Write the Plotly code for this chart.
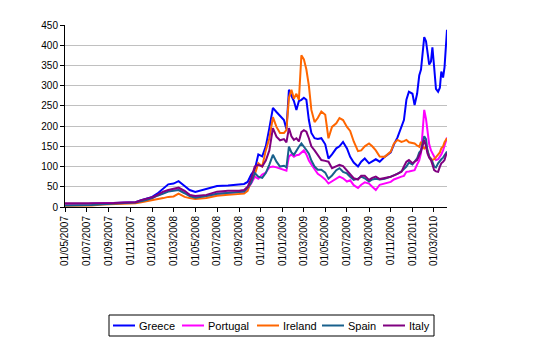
import plotly.graph_objects as go

dates = [
    "2007-05-01", "2007-06-15", "2007-07-15", "2007-08-15", "2007-09-15", "2007-10-15", "2007-11-15", "2007-12-01", "2007-12-15", "2008-01-01",
    "2008-01-15", "2008-02-01", "2008-02-15", "2008-03-01", "2008-03-15", "2008-04-01", "2008-04-15", "2008-05-01", "2008-06-01", "2008-07-01",
    "2008-08-01", "2008-09-01", "2008-09-15", "2008-09-25", "2008-10-05", "2008-10-15", "2008-10-25", "2008-11-05", "2008-11-15", "2008-11-25",
    "2008-12-05", "2008-12-15", "2008-12-25", "2009-01-05", "2009-01-12", "2009-01-19", "2009-01-26", "2009-02-02", "2009-02-09", "2009-02-16",
    "2009-02-23", "2009-03-02", "2009-03-09", "2009-03-16", "2009-03-23", "2009-04-01", "2009-04-10", "2009-04-20", "2009-05-01", "2009-05-10",
    "2009-05-20", "2009-06-01", "2009-06-10", "2009-06-20", "2009-07-01", "2009-07-10", "2009-07-20", "2009-08-01", "2009-08-10", "2009-08-20",
    "2009-09-01", "2009-09-10", "2009-09-20", "2009-10-01", "2009-10-15", "2009-11-01", "2009-11-10", "2009-11-20", "2009-12-01", "2009-12-08",
    "2009-12-15", "2009-12-22", "2010-01-01", "2010-01-07", "2010-01-14", "2010-01-20", "2010-01-25", "2010-01-29", "2010-02-03", "2010-02-08",
    "2010-02-12", "2010-02-17", "2010-02-22", "2010-02-26", "2010-03-03", "2010-03-08", "2010-03-14", "2010-03-19", "2010-03-23", "2010-03-28",
    "2010-04-01", "2010-04-05", "2010-04-08",
]

greece = [
    6, 6, 8, 9, 10, 10, 12, 17, 20, 25,
    33, 47, 56, 58, 64, 52, 42, 37, 44, 52,
    53, 55, 57, 62, 80, 92, 130, 125, 150, 195,
    245, 235, 225, 215, 192, 290, 275, 262, 240, 262,
    265, 270, 265, 215, 183, 170, 168, 170, 155, 120,
    130, 145, 150, 161, 145, 124, 110, 100, 112, 120,
    108, 112, 118, 112, 124, 135, 155, 172, 200, 215,
    265, 285, 280, 252, 280, 325, 340, 375, 420, 410,
    380, 352, 360, 395, 345, 292, 285, 295, 335, 320,
    345, 410, 438,
]

portugal = [
    6, 6, 8, 9, 10, 10, 11, 15, 18, 22,
    28, 35, 40, 42, 45, 38, 30, 25, 28, 33,
    35, 36, 38, 45, 58, 75, 70, 80, 85, 98,
    100, 98, 95, 93, 90, 125, 130, 124, 128, 129,
    135, 140, 130, 115, 105, 92, 82, 76, 68, 58,
    64, 71, 75, 71, 63, 66, 54, 47, 55, 61,
    58, 50, 42, 55, 58, 62, 68, 72, 75, 77,
    87, 88, 90, 91, 105, 115, 133, 175, 240, 218,
    190, 155, 140, 133, 125, 116, 118, 124, 130, 140,
    153, 168, 172,
]

ireland = [
    3, 3, 4, 6, 7, 8, 9, 12, 14, 16,
    18, 22, 25, 26, 33, 25, 22, 20, 22, 28,
    30, 32, 33, 40, 65, 80, 108, 100, 140, 170,
    222, 198, 183, 183, 190, 270, 290, 268, 280, 265,
    375, 365, 340, 300, 240, 210, 220, 236, 228, 170,
    198, 207, 220, 215, 198, 188, 162, 138, 140, 150,
    157, 150, 140, 125, 124, 137, 157, 166, 161, 163,
    166, 160, 158, 157, 152, 149, 161, 150, 145, 150,
    140, 124, 120, 116, 118, 124, 129, 135, 145, 150,
    160, 168, 170,
]

spain = [
    4, 4, 5, 7, 9, 10, 11, 14, 17, 22,
    28, 33, 38, 40, 42, 34, 27, 23, 27, 33,
    35, 36, 38, 48, 60, 84, 75, 72, 84, 105,
    129, 112, 100, 102, 98, 149, 135, 129, 141, 149,
    157, 150, 141, 132, 115, 100, 92, 92, 85, 70,
    78, 91, 96, 87, 83, 75, 67, 70, 75, 71,
    63, 68, 70, 68, 70, 75, 78, 82, 88, 95,
    100, 110, 105, 112, 120, 135, 140, 155, 175, 168,
    140, 125, 118, 112, 100, 98, 108, 115, 118, 122,
    128, 134, 137,
]

italy = [
    9, 9, 9, 10, 10, 11, 12, 17, 20, 24,
    30, 38, 42, 45, 48, 40, 30, 27, 30, 38,
    40, 40, 42, 50, 70, 100, 104, 100, 115, 140,
    195, 174, 165, 168, 160, 195, 175, 166, 170, 162,
    185, 190, 186, 170, 150, 140, 128, 116, 114, 112,
    96, 100, 104, 101, 90, 83, 71, 68, 77, 77,
    67, 72, 75, 69, 71, 75, 78, 83, 87, 100,
    112, 116, 108, 112, 116, 128, 137, 150, 166, 150,
    133, 122, 116, 105, 91, 88, 87, 100, 108, 112,
    116, 128, 133,
]

series_names = ["Greece", "Portugal", "Ireland", "Spain", "Italy"]
series_values = [greece, portugal, ireland, spain, italy]
series_colors = ["#0000FF", "#FF00FF", "#FF6600", "#18608C", "#800080"]

tick_dates = [
    "2007-05-01", "2007-07-01", "2007-09-01", "2007-11-01", "2008-01-01", "2008-03-01",
    "2008-05-01", "2008-07-01", "2008-09-01", "2008-11-01", "2009-01-01", "2009-03-01",
    "2009-05-01", "2009-07-01", "2009-09-01", "2009-11-01", "2010-01-01", "2010-03-01",
]
x_range = ["2007-05-01", "2010-04-08"]
y_ticks = list(range(0, 451, 50))

# ---- layout geometry (pixels) ----
W, H = 550, 343
PL, PR, PT, PB = 65, 447, 25, 207          # plot area edges
LEG_BOX = (109, 315, 434, 336)             # legend frame
LEG_SAMPLE_X = [113, 182, 257, 322, 383]   # start of each legend line sample
LEG_SAMPLE_LEN = 22
LEG_Y = 325.5


def px(x):
    return (x - PL) / (PR - PL)


def py(y):
    return (PB - y) / (PB - PT)


fig = go.Figure()
for name, vals, col in zip(series_names, series_values, series_colors):
    fig.add_trace(go.Scatter(x=dates, y=vals, name=name, mode="lines",
                             line=dict(color=col, width=2), showlegend=False))

font_family = "Liberation Sans, Arial, sans-serif"

shapes = [dict(type="rect", xref="paper", yref="paper",
               x0=px(LEG_BOX[0]), x1=px(LEG_BOX[2]), y0=py(LEG_BOX[1]), y1=py(LEG_BOX[3]),
               line=dict(color="black", width=1), fillcolor="white", layer="above")]
annotations = []
for name, col, sx in zip(series_names, series_colors, LEG_SAMPLE_X):
    shapes.append(dict(type="line", xref="paper", yref="paper",
                       x0=px(sx), x1=px(sx + LEG_SAMPLE_LEN), y0=py(LEG_Y), y1=py(LEG_Y),
                       line=dict(color=col, width=2), layer="above"))
    annotations.append(dict(text=name, xref="paper", yref="paper",
                            x=px(sx + LEG_SAMPLE_LEN + 2), y=py(LEG_Y),
                            xanchor="left", yanchor="middle", showarrow=False,
                            font=dict(family=font_family, size=11, color="black")))

fig.update_layout(
    width=W, height=H,
    margin=dict(l=PL, r=W - PR, t=PT, b=H - PB),
    paper_bgcolor="white", plot_bgcolor="white",
    font=dict(family=font_family, size=10, color="black"),
    showlegend=False,
    shapes=shapes, annotations=annotations,
    xaxis=dict(
        type="date", range=x_range, tickvals=tick_dates, tickformat="%d/%m/%Y",
        tickangle=-90, showgrid=False, showline=True, linecolor="black", linewidth=1,
        ticks="outside", ticklen=4, tickcolor="black", zeroline=False,
        tickfont=dict(size=10),
    ),
    yaxis=dict(
        range=[0, 450], tickvals=y_ticks, showgrid=True, gridcolor="#C0C0C0", gridwidth=1,
        showline=True, linecolor="black", linewidth=1, ticks="outside", ticklen=4,
        tickcolor="black", zeroline=False, tickfont=dict(size=10),
    ),
)

fig.write_html("out.html")
